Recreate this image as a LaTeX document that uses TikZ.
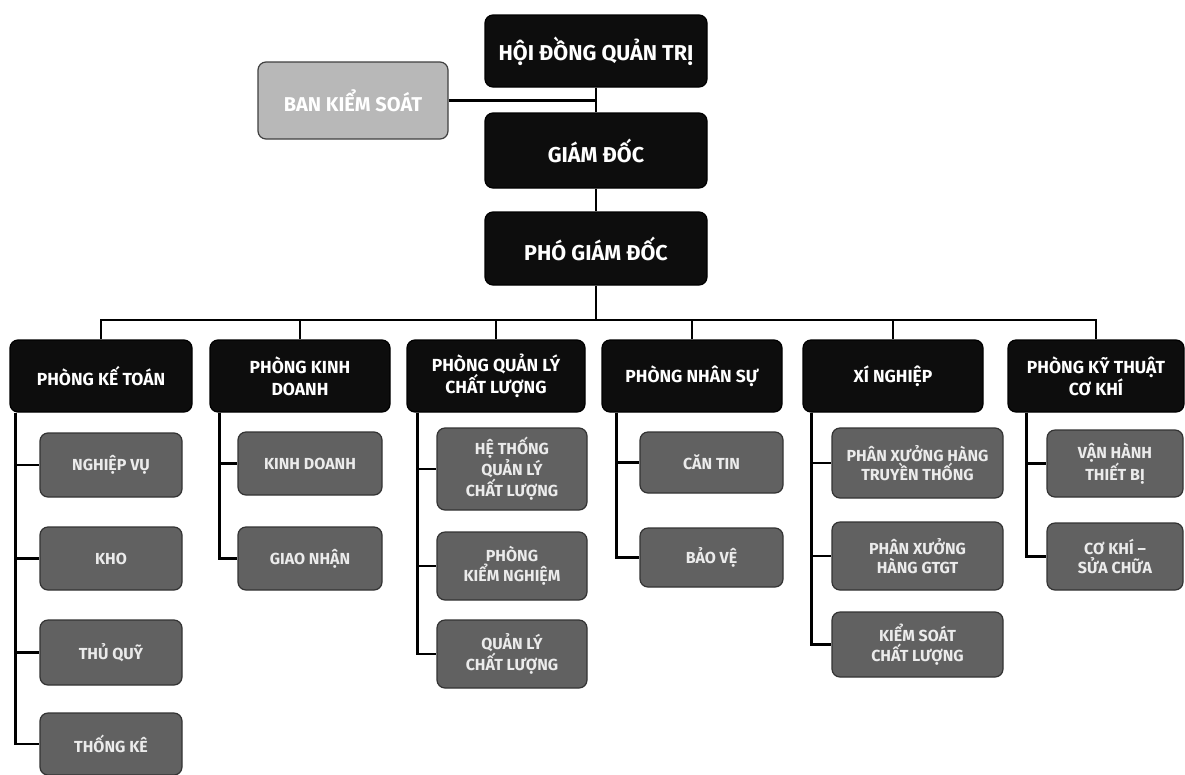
\documentclass[tikz,border=0pt]{standalone}
\usepackage{fontspec}
\setmainfont{Fira Sans}
\usetikzlibrary{calc}
\begin{document}
\begin{tikzpicture}[x=1pt,y=-1pt,
  base/.style={rounded corners=8pt,align=center,inner sep=0pt,font=\bfseries,line width=1.2pt},
  topbox/.style={base,fill=black!95,draw=black,text=white,font=\bfseries\fontsize{21.5}{24}\selectfont},
  deptbox/.style={base,fill=black!95,draw=black,text=white,minimum width=180pt,minimum height=72pt,font=\bfseries\fontsize{17.5}{22}\selectfont},
  subbox/.style={base,fill=black!62,draw=black!80,text=black!8,font=\bfseries\fontsize{16}{19.5}\selectfont},
  bksbox/.style={base,fill=black!28,draw=black!75,text=white,font=\bfseries\fontsize{20}{22}\selectfont},
  link/.style={line width=2.5pt,draw=black}]
\useasboundingbox (0,0) rectangle (1185,774);
\fill[white] (0,0) rectangle (1185,774);

% top
\node[topbox,minimum width=222pt,minimum height=72pt] (hdqt) at (596,51) {HỘI ĐỒNG QUẢN TRỊ};
\node[bksbox,minimum width=190pt,minimum height=77pt] (bks) at (353,100.5) {BAN KIỂM SOÁT};
\node[topbox,minimum width=222pt,minimum height=75pt] (gd) at (596,150.5) {GIÁM ĐỐC};
\node[topbox,minimum width=222pt,minimum height=73pt] (pgd) at (596,248.5) {PHÓ GIÁM ĐỐC};
\coordinate (bus) at (596,320);

% departments
\node[deptbox,minimum width=182pt] (kt) at (101,376) {PHÒNG KẾ TOÁN};
\node[deptbox] (kd) at (300,376) {PHÒNG KINH\\DOANH};
\node[deptbox,minimum width=178pt] (ql) at (496,376) {PHÒNG QUẢN LÝ\\CHẤT LƯỢNG};
\node[deptbox] (ns) at (692,376) {PHÒNG NHÂN SỰ};
\node[deptbox] (xn) at (893,376) {XÍ NGHIỆP};
\node[deptbox,minimum width=176pt] (kc) at (1096,376) {PHÒNG KỸ THUẬT\\CƠ KHÍ};

% sub units
\node[subbox,minimum width=142pt,minimum height=64pt] (nv) at (111,465) {NGHIỆP VỤ};
\node[subbox,minimum width=142pt,minimum height=63pt] (kho) at (111,558.5) {KHO};
\node[subbox,minimum width=142pt,minimum height=65pt] (tq) at (111,652.5) {THỦ QUỸ};
\node[subbox,minimum width=142pt,minimum height=62pt] (tk) at (111,744) {THỐNG KÊ};

\node[subbox,minimum width=144pt,minimum height=63pt] (kd2) at (310,463.5) {KINH DOANH};
\node[subbox,minimum width=144pt,minimum height=63pt] (gn) at (310,558.5) {GIAO NHẬN};

\node[subbox,minimum width=150pt,minimum height=82pt] (ht) at (512,469) {HỆ THỐNG\\QUẢN LÝ\\CHẤT LƯỢNG};
\node[subbox,minimum width=150pt,minimum height=68pt] (pkn) at (512,566) {PHÒNG\\KIỂM NGHIỆM};
\node[subbox,minimum width=150pt,minimum height=68pt] (qlcl) at (512,654) {QUẢN LÝ\\CHẤT LƯỢNG};

\node[subbox,minimum width=143pt,minimum height=61pt] (ct) at (711.5,462.5) {CĂN TIN};
\node[subbox,minimum width=143pt,minimum height=59pt] (bv) at (711.5,557.5) {BẢO VỆ};

\node[subbox,minimum width=171pt,minimum height=70pt] (px1) at (917.5,463) {PHÂN XƯỞNG HÀNG\\TRUYỀN THỐNG};
\node[subbox,minimum width=171pt,minimum height=68pt] (px2) at (917.5,556) {PHÂN XƯỞNG\\HÀNG GTGT};
\node[subbox,minimum width=171pt,minimum height=65pt] (ks) at (917.5,644.5) {KIỂM SOÁT\\CHẤT LƯỢNG};

\node[subbox,minimum width=136pt,minimum height=67pt] (vh) at (1115,463.5) {VẬN HÀNH\\THIẾT BỊ};
\node[subbox,minimum width=136pt,minimum height=67pt] (ck) at (1115,556.5) {CƠ KHÍ –\\SỬA CHỮA};

% connectors top
\draw[link] (hdqt.south) -- (gd.north);
\draw[link] (gd.south) -- (pgd.north);
\draw[link] (bks.east) -- (bks.east -| hdqt.south);
\draw[link] (pgd.south) -- (bus);
\foreach \d in {kt,kd,ql,ns,xn,kc}{\draw[link] (\d.north) |- (bus);}

% connectors to sub units
\foreach \c in {nv,kho,tq,tk}{\draw[link] ($(kt.south west)+(6,0)$) |- (\c.west);}
\foreach \c in {kd2,gn}{\draw[link] ($(kd.south west)+(10,0)$) |- (\c.west);}
\foreach \c in {ht,pkn,qlcl}{\draw[link] ($(ql.south west)+(11,0)$) |- (\c.west);}
\foreach \c in {ct,bv}{\draw[link] ($(ns.south west)+(15,0)$) |- (\c.west);}
\foreach \c in {px1,px2,ks}{\draw[link] ($(xn.south west)+(9,0)$) |- (\c.west);}
\foreach \c in {vh,ck}{\draw[link] ($(kc.south west)+(19,0)$) |- (\c.west);}
\end{tikzpicture}
\end{document}
